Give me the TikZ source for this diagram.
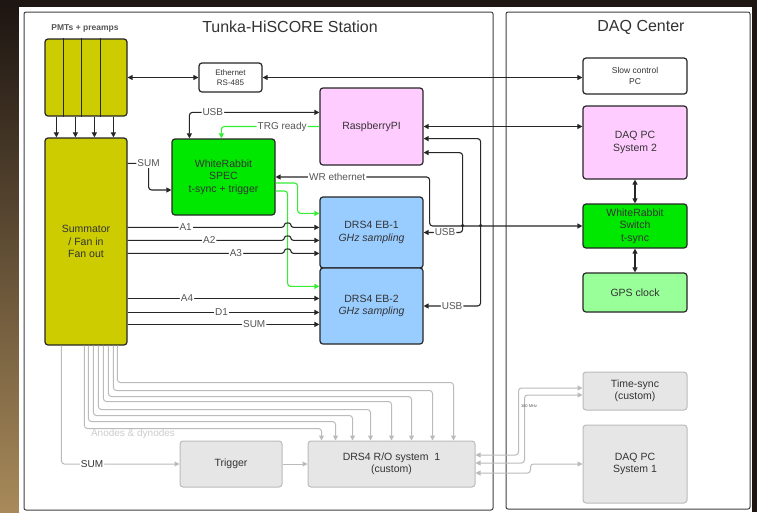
\documentclass[tikz,border=0pt]{standalone}
\usepackage{fontspec}
\setmainfont{Liberation Sans}
\usetikzlibrary{arrows.meta,calc}

\definecolor{pmtyellow}{HTML}{CCCC00}
\definecolor{rpipink}{HTML}{FFCCFF}
\definecolor{wrgreen}{HTML}{00E800}
\definecolor{gpsgreen}{HTML}{99FF99}
\definecolor{drsblue}{HTML}{99CCFF}
\definecolor{boxgray}{HTML}{E6E6E6}
\definecolor{linegray}{HTML}{BBBBBB}
\definecolor{txtgray}{HTML}{333333}
\definecolor{lbltxt}{HTML}{555555}
\definecolor{trggreen}{HTML}{33EE33}
\definecolor{bgdark}{HTML}{1E1612}
\definecolor{bgtan}{HTML}{A88A5A}

\begin{document}
\begin{tikzpicture}[x=1pt,y=-1pt,
  blk/.style={draw=black!85, line width=1.2pt, rounded corners=3pt, align=center,
    inner sep=0pt, text=txtgray, font=\fontsize{10.5}{12.5}\selectfont},
  gblk/.style={blk, draw=linegray, fill=boxgray, line width=1pt},
  lbl/.style={fill=white, inner sep=1pt, text=lbltxt, font=\fontsize{10}{12}\selectfont},
  con/.style={line width=1.1pt, draw=black!85, rounded corners=3pt},
  arr/.style={con, -{Triangle[length=5pt,width=5pt]}},
  arrs/.style={con, {Triangle[length=5pt,width=5pt]}-{Triangle[length=5pt,width=5pt]}},
  grn/.style={arr, draw=trggreen},
  gcon/.style={line width=1pt, draw=linegray, rounded corners=3pt, -{Triangle[length=5pt,width=5pt]}},
  gcons/.style={gcon, {Triangle[length=5pt,width=5pt]}-{Triangle[length=5pt,width=5pt]}},
  frame/.style={draw=black!75, line width=1pt, rounded corners=2pt}]

\useasboundingbox (0,0) rectangle (757,512);
\fill[bgdark] (0,0) rectangle (757,512);
\shade[top color=bgdark, bottom color=bgtan] (0,7) rectangle (19,512);
\fill[white] (19,7) rectangle (752,512);

\draw[frame] (24,12) rectangle (493,510);
\draw[frame] (506,12) rectangle (750,509);
\node[font=\fontsize{16}{18}\selectfont, text=txtgray] (sttitle) at (290,27) {Tunka-HiSCORE Station};
\node[font=\fontsize{16}{18}\selectfont, text=txtgray] (daqtitle) at (641,27) {DAQ Center};

\node[font=\bfseries\fontsize{8.5}{10}\selectfont, text=lbltxt] (pmtlbl) at (85,28) {PMTs + preamps};
\node[blk, fill=pmtyellow, minimum width=82, minimum height=77] (pmt) at (86,77.5) {};
\foreach \x in {19,37,56}
  \draw[line width=1.2pt, black!85] ($(pmt.north west)+(\x,0)$) -- ($(pmt.south west)+(\x,0)$);
\node[blk, fill=pmtyellow, minimum width=82, minimum height=207] (summ) at (86,241.5) {Summator\\/ Fan in\\Fan out};
\foreach \x in {12,31,50,69}
  \draw[arr] ($(pmt.south west)+(\x,0)$) -- ($(summ.north west)+(\x,0)$);

\node[blk, fill=white, minimum width=63, minimum height=29, font=\fontsize{8}{9.5}\selectfont] (eth) at (230.5,77.5) {Ethernet\\RS-485};
\node[blk, fill=white, minimum width=104, minimum height=36, font=\fontsize{8.5}{11}\selectfont] (slow) at (635,76) {Slow control\\PC};
\node[blk, fill=rpipink, minimum width=103, minimum height=77] (rpi) at (371.5,126.5) {RaspberryPI};
\node[blk, fill=rpipink, minimum width=104, minimum height=73] (daq2) at (635,142.5) {DAQ PC\\System 2};
\node[blk, fill=wrgreen, minimum width=103, minimum height=76] (spec) at (223.5,177) {WhiteRabbit\\SPEC\\t-sync + trigger};
\node[blk, fill=drsblue, minimum width=103, minimum height=71] (eb1) at (371.5,232.5) {DRS4 EB-1\\\textit{GHz sampling}};
\node[blk, fill=drsblue, minimum width=103, minimum height=76] (eb2) at (371.5,306) {DRS4 EB-2\\\textit{GHz sampling}};
\node[blk, fill=wrgreen, minimum width=104, minimum height=44] (wrsw) at (635,226) {WhiteRabbit\\Switch\\t-sync};
\node[blk, fill=gpsgreen, minimum width=104, minimum height=39] (gps) at (635,292.5) {GPS clock};

\node[gblk, minimum width=102, minimum height=46] (trig) at (231,464) {Trigger};
\node[gblk, minimum width=167, minimum height=46] (ro) at (391.5,464) {DRS4 R/O system\ \ 1\\(custom)};
\node[gblk, minimum width=104, minimum height=38] (ts) at (635,391) {Time-sync\\(custom)};
\node[gblk, minimum width=104, minimum height=78] (dpc1) at (635,464) {DAQ PC\\System 1};

\draw[arrs] (pmt.east) -- (eth.west);
\draw[arrs] (eth.east) -- (eth.east -| slow.west);
\draw[arrs] (rpi.east) -- (rpi.east -| daq2.west);
\draw[arrs] (daq2.south) -- (wrsw.north);
\draw[arrs] (wrsw.south) -- (gps.north);

\draw[arrs] ($(spec.north west)+(18,0)$) |- ($(rpi.north west)+(0,25)$) node[lbl, pos=0.59] {USB};
\draw[grn] (rpi.west) -| ($(spec.north west)+(50,0)$) node[lbl, pos=0.19] {TRG ready};
\draw[arr] ($(summ.north east)+(0,26)$) -- ++(21,0) node[lbl] {SUM} |- ($(spec.west)+(0,13)$);
\draw[arrs] (spec.east) -- ++(154,0) node[lbl, pos=0.4] {WR ethernet} |- (wrsw.west);
\draw[arrs] (eb1.east) -- ++(39,0) node[lbl, pos=0.55] {USB} |- ($(rpi.south east)+(0,-13)$);
\draw[arrs] (eb2.east) -- ++(57,0) node[lbl, pos=0.5] {USB} |- ($(rpi.south east)+(0,-27)$);
\fill[black!85] ($(eb1.east)+(39,-7)$) circle (1.8);
\fill[black!85] ($(eb1.east)+(57,-7)$) circle (1.8);

\draw[grn] ($(spec.east)+(0,6)$) -- ++(22,0) |- ($(eb1.north west)+(0,17)$);
\draw[grn] ($(spec.east)+(0,14)$) -- ++(12,0) |- ($(eb2.north west)+(0,19)$);

\foreach \yy/\nm/\p in {90/A1/0.37, 103/A2/0.52, 116/A3/0.69}{
  \coordinate (a) at ($(summ.north east)+(0,\yy)$);
  \draw[arr] (a) -- ++(157,0) node[lbl, pos=\p] {\nm} .. controls +(0,-5) and +(0,-5) .. ++(6,0) -- (a -| eb1.west);
}
\foreach \yy/\nm/\p in {161/A4/0.31, 175/D1/0.49, 187/SUM/0.66}{
  \coordinate (a) at ($(summ.north east)+(0,\yy)$);
  \draw[arr] (a) -- (a -| eb2.west) node[lbl, pos=\p] {\nm};
}

\draw[gcon] ($(summ.south west)+(17,0)$) |- (trig.west) node[lbl, text=txtgray, pos=0.63] {SUM};
\draw[gcon] (trig.east) -- (ro.west);
\foreach \sx/\ex/\dy in {40/14/12, 44/28/19, 49/45/25, 54/63/31, 59/84/39, 64/104/44, 69/125/50, 73/146/58}
  \draw[gcon] ($(summ.south west)+(\sx,0)$) |- ($(ro.north west)+(\ex,-\dy)$) -- ($(ro.north west)+(\ex,0)$);
\node[text=black!20, font=\fontsize{10}{12}\selectfont] (anlbl) at (133,434) {Anodes \& dynodes};

\draw[gcons] ($(ro.east)+(0,-9)$) -- ++(43,0) |- ($(ts.west)+(0,-3)$);
\draw[gcons] ($(ro.east)+(0,-1)$) -- ++(49,0) |- ($(ts.west)+(0,4)$);
\draw[gcons] ($(ro.east)+(0,9)$) -- ++(55,0) |- (dpc1.west);
\node[text=lbltxt, font=\fontsize{4}{5}\selectfont] (mhz) at (529,406) {100 MHz};

\end{tikzpicture}
\end{document}
